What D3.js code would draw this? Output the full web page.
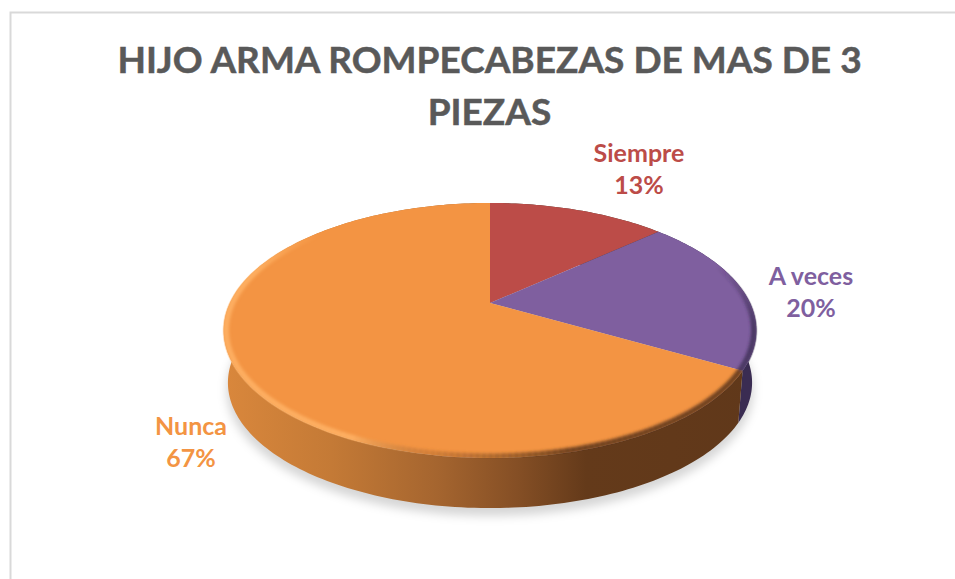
<!DOCTYPE html>
<html>
<head>
<meta charset="utf-8">
<script src="https://cdn.jsdelivr.net/npm/d3@7"></script>
<style>
  html, body { margin: 0; padding: 0; background: #fff; }
  svg { display: block; }
  text { font-family: Lato, "Open Sans", sans-serif; font-weight: 700; }
</style>
</head>
<body>
<div id="chart"></div>
<script>
//chart data
const titleLines = ["HIJO ARMA ROMPECABEZAS DE MAS DE 3", "PIEZAS"];
const categories = ["Siempre", "A veces", "Nunca"];
const values = [13.3, 20, 66.7];
const percentLabels = ["13%", "20%", "67%"];
const topColors = ["#bc4c48", "#7f5f9f", "#f39443"];

const width = 955, height = 579;
const cx = 490, cy = 303;        //point where the slices meet
const a = 260, b = 121.6, k = 0.2157; //perspective of the disc
const depth = 53;

const svg = d3.select("#chart").append("svg")
    .attr("width", width)
    .attr("height", height);
const defs = svg.append("defs");

//frame
svg.append("path")
    .attr("d", `M${width},12.5H10.5V${height}`)
    .attr("fill", "none")
    .attr("stroke", "#d9d9d9")
    .attr("stroke-width", 2);

//title
svg.selectAll(".title")
    .data(titleLines)
  .enter().append("text")
    .attr("class", "title")
    .attr("x", 489.5)
    .attr("y", (d, i) => 73 + i * 52)
    .attr("text-anchor", "middle")
    .attr("font-size", 37)
    .attr("fill", "#595959")
    .attr("stroke", "#595959")
    .attr("stroke-width", 0.5)
    .text(d => d);

//angle clockwise from the top -> screen position on the disc
function project(angle, radius, dy) {
    const u = Math.sin(angle) * radius, v = -Math.cos(angle) * radius;
    const w = 1 - k * v;
    return [cx + a * u / w, cy + b * v / w + (dy || 0)];
}

const pie = d3.pie().sort(null).value(d => d);
const arcs = pie(values);
const line = d3.line();

function samples(a0, a1) {
    const n = Math.max(2, Math.ceil((a1 - a0) / 0.02));
    return d3.range(n + 1).map(i => a0 + (a1 - a0) * i / n);
}

function rimPath(a0, a1, radius, dy) {
    return samples(a0, a1).map(t => project(t, radius, dy));
}

//gradients
const wallGrad = defs.append("linearGradient")
    .attr("id", "wallOrange")
    .attr("gradientUnits", "userSpaceOnUse")
    .attr("x1", 225).attr("x2", 756).attr("y1", 0).attr("y2", 0);
[[0, "#d9873c"], [0.2, "#c47a36"], [0.4, "#a5652f"], [0.55, "#854f25"], [0.68, "#643a1a"], [1, "#60381a"]]
    .forEach(s => wallGrad.append("stop").attr("offset", s[0]).attr("stop-color", s[1]));

const blur = (id, dev) => defs.append("filter")
    .attr("id", id)
    .attr("x", "-20%").attr("y", "-20%").attr("width", "140%").attr("height", "140%")
  .append("feGaussianBlur").attr("stdDeviation", dev);
blur("shadowBlur", 5);
blur("edgeBlur", 1.5);

defs.append("clipPath").attr("id", "discClip")
  .append("path").attr("d", line(rimPath(0, 2 * Math.PI, 1.004, 0)) + "Z");

//soft shadow under the disc
svg.append("path")
    .attr("d", line(rimPath(0, 2 * Math.PI, 0.99, depth + 7)) + "Z")
    .attr("fill", "#000")
    .attr("fill-opacity", 0.16)
    .attr("filter", "url(#shadowBlur)");

//outer wall, only the front half shows
const wallColors = ["#4a3a2f", "#3a2c52", "url(#wallOrange)"];
arcs.forEach((d, i) => {
    const top = rimPath(d.startAngle, d.endAngle, 1, 0);
    const bottom = rimPath(d.startAngle, d.endAngle, 0.985, depth).reverse();
    svg.append("path")
        .attr("d", line(top.concat(bottom)) + "Z")
        .attr("fill", wallColors[i]);
});

//top faces
arcs.forEach((d, i) => {
    const pts = [[cx, cy]].concat(rimPath(d.startAngle, d.endAngle, 1, 0));
    svg.append("path")
        .attr("d", line(pts) + "Z")
        .attr("fill", topColors[i]);
});

//bevel along the rim: colour and strength change with the angle (degrees)
const bevelStops = [
    [70,  "#3a2c52", 0],
    [100, "#3a2c52", 0.7],
    [120, "#3a2c52", 0.7],
    [120, "#5a3418", 0.8],
    [165, "#5a3418", 0.8],
    [190, "#a8642c", 0.35],
    [205, "#ffb366", 0.8],
    [285, "#ffb366", 0.8],
    [310, "#ffb366", 0]
];
const toRad = d => d * Math.PI / 180;
const bevel = svg.append("g")
    .attr("clip-path", "url(#discClip)")
  .append("g")
    .attr("filter", "url(#edgeBlur)");
d3.pairs(bevelStops).forEach(p => {
    const [s0, s1] = p;
    if (s0[0] === s1[0]) return;
    const ts = samples(toRad(s0[0]), toRad(s1[0]));
    const color = d3.interpolateRgb(s0[1], s1[1]);
    const op = d3.interpolateNumber(s0[2], s1[2]);
    d3.pairs(ts).forEach((seg, j) => {
        const f = j / (ts.length - 1);
        bevel.append("path")
            .attr("d", line([project(seg[0], 0.992, 0), project(seg[1] + 0.005, 0.992, 0)]))
            .attr("fill", "none")
            .attr("stroke", color(f))
            .attr("stroke-opacity", op(f))
            .attr("stroke-width", 6);
    });
});

//labels
const labelX = [639, 811, 191];
const labelY = [162, 285, 435];
categories.forEach((c, i) => {
    const g = svg.append("text")
        .attr("text-anchor", "middle")
        .attr("font-size", 25)
        .attr("fill", topColors[i]);
    g.append("tspan").attr("x", labelX[i]).attr("y", labelY[i]).text(c);
    g.append("tspan").attr("x", labelX[i]).attr("y", labelY[i] + 32).text(percentLabels[i]);
});
</script>
</body>
</html>
